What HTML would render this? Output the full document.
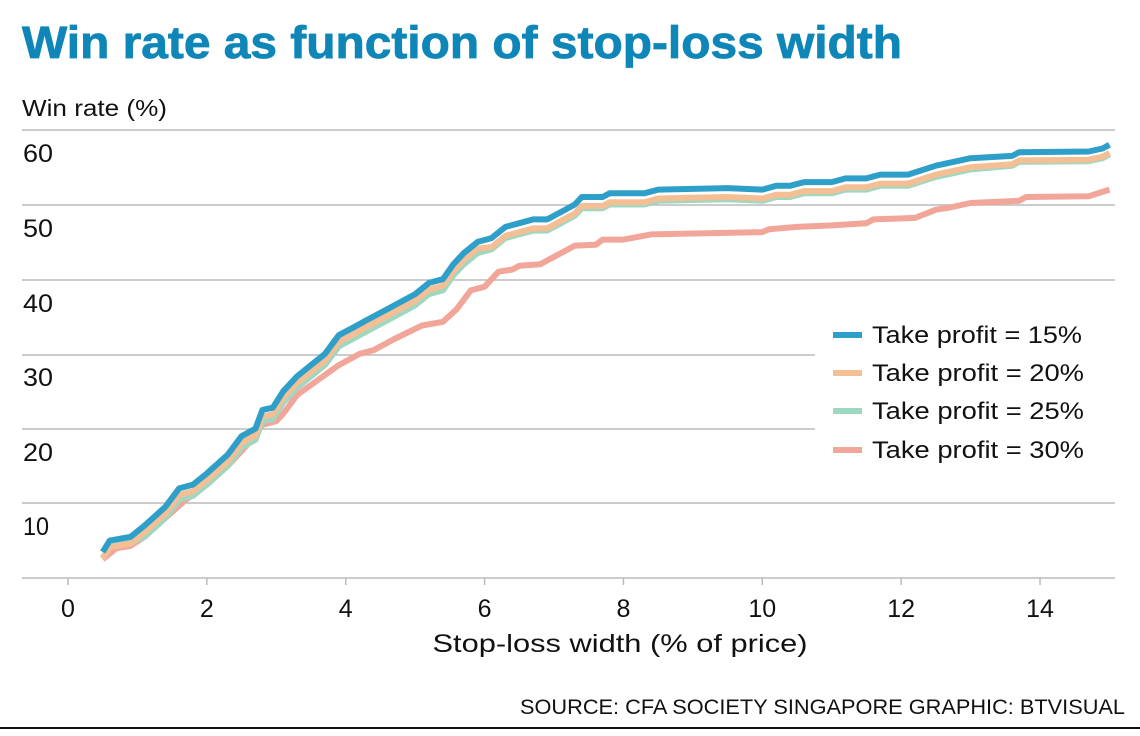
<!DOCTYPE html>
<html><head><meta charset="utf-8"><style>
html,body{margin:0;padding:0;background:#fff;}
svg{display:block;font-family:"Liberation Sans",sans-serif;}
</style></head><body>
<svg id="s" width="1140" height="736" viewBox="0 0 1140 736" xmlns="http://www.w3.org/2000/svg">
<rect width="1140" height="736" fill="#fff"/>
<text x="22" y="58" font-size="45" font-weight="bold" fill="#0f86b8" stroke="#0f86b8" stroke-width="0.8" textLength="880" lengthAdjust="spacingAndGlyphs">Win rate as function of stop-loss width</text>
<text x="22" y="116" font-size="23" fill="#111" textLength="145" lengthAdjust="spacingAndGlyphs">Win rate (%)</text>
<g stroke="#bbb" stroke-width="1.5">
<line x1="22" y1="130" x2="1115" y2="130"/>
<line x1="22" y1="205" x2="1115" y2="205"/>
<line x1="22" y1="280" x2="1115" y2="280"/>
<line x1="22" y1="355" x2="1115" y2="355"/>
<line x1="22" y1="429" x2="1115" y2="429"/>
<line x1="22" y1="503" x2="1115" y2="503"/>
<line x1="22" y1="578" x2="1115" y2="578"/>
</g>
<g font-size="25" fill="#111">
<text x="23" y="162" textLength="30" lengthAdjust="spacingAndGlyphs">60</text>
<text x="23" y="237" textLength="30" lengthAdjust="spacingAndGlyphs">50</text>
<text x="23" y="312" textLength="30" lengthAdjust="spacingAndGlyphs">40</text>
<text x="23" y="386" textLength="30" lengthAdjust="spacingAndGlyphs">30</text>
<text x="23" y="461" textLength="30" lengthAdjust="spacingAndGlyphs">20</text>
<text x="23" y="535" textLength="26" lengthAdjust="spacingAndGlyphs">10</text>
</g>
<g id="ticks" stroke="#bbb" stroke-width="1.5"></g>
<g id="xl" font-size="25" fill="#111" text-anchor="middle"></g>
<text x="620" y="652" font-size="25" fill="#111" text-anchor="middle" textLength="375" lengthAdjust="spacingAndGlyphs">Stop-loss width (% of price)</text>
<g id="lines" fill="none" stroke-width="6" stroke-linejoin="round"></g>
<rect x="815" y="310" width="300" height="160" fill="#fff"/>
<g stroke-width="6">
<line x1="833" y1="335" x2="862" y2="335" stroke="#2e9fc9"/>
<line x1="833" y1="373" x2="862" y2="373" stroke="#f4bf95"/>
<line x1="833" y1="411" x2="862" y2="411" stroke="#9fd8c0"/>
<line x1="833" y1="450" x2="862" y2="450" stroke="#f2a69a"/>
</g>
<g font-size="24" fill="#111">
<text x="872" y="343" textLength="210" lengthAdjust="spacingAndGlyphs">Take profit = 15%</text>
<text x="872" y="381" textLength="212" lengthAdjust="spacingAndGlyphs">Take profit = 20%</text>
<text x="872" y="419" textLength="212" lengthAdjust="spacingAndGlyphs">Take profit = 25%</text>
<text x="872" y="458" textLength="212" lengthAdjust="spacingAndGlyphs">Take profit = 30%</text>
</g>
<text x="1125" y="714" font-size="21" fill="#111" text-anchor="end" textLength="605" lengthAdjust="spacingAndGlyphs">SOURCE: CFA SOCIETY SINGAPORE   GRAPHIC: BTVISUAL</text>
<line x1="0" y1="728" x2="1140" y2="728" stroke="#111" stroke-width="2"/>
</svg>
<script>
var X=function(v){return 68+v*69.43;},Y=function(v){return 578-v*7.47;};
var NS="http://www.w3.org/2000/svg";
var t=document.getElementById('ticks'),xl=document.getElementById('xl');
for(var i=0;i<=14;i+=2){var l=document.createElementNS(NS,'line');l.setAttribute('x1',X(i));l.setAttribute('x2',X(i));l.setAttribute('y1',578);l.setAttribute('y2',585);t.appendChild(l);
var tx=document.createElementNS(NS,'text');tx.setAttribute('x',X(i));tx.setAttribute('y',617);tx.textContent=i;xl.appendChild(tx);}
var blue=[[0.5,3.5],[0.6,5],[0.9,5.5],[1.1,7],[1.4,9.5],[1.6,12],[1.8,12.5],[2,14],[2.3,16.5],[2.5,19],[2.7,20],[2.8,22.5],[2.95,22.8],[3.1,25],[3.3,27],[3.5,28.5],[3.7,30],[3.9,32.5],[4.1,33.5],[4.3,34.5],[4.6,36],[5,38],[5.2,39.5],[5.4,40],[5.55,42],[5.7,43.5],[5.9,45],[6.1,45.5],[6.3,47],[6.5,47.5],[6.7,48],[6.9,48],[7.1,49],[7.3,50],[7.4,51],[7.7,51],[7.8,51.5],[8.3,51.5],[8.5,52],[9.5,52.2],[10,52],[10.2,52.5],[10.4,52.5],[10.6,53],[11,53],[11.2,53.5],[11.5,53.5],[11.7,54],[12.1,54],[12.5,55.2],[13,56.2],[13.6,56.5],[13.7,57],[14.7,57.1],[14.9,57.5],[15,58]];
function shift(a,f){return a.map(function(p){return [p[0],p[1]-f(p[0])];});}
var orange=shift(blue,function(x){return x<6?0.9:(x<13.6?1.2:1.1);});
var green=shift(blue,function(x){return x<1?0.8:(x<6?1.5:(x<13.6?1.5:1.3));});
var pink=[[0.5,2.5],[0.7,4],[0.9,4.3],[1.1,5.5],[1.4,8],[1.7,10.5],[2,12.5],[2.3,15],[2.6,18],[2.8,20.5],[3,21],[3.1,22],[3.3,24.5],[3.6,26.5],[3.9,28.5],[4.2,30],[4.4,30.5],[4.7,32],[5.1,33.8],[5.4,34.3],[5.6,36],[5.8,38.5],[6,39],[6.2,41],[6.4,41.3],[6.5,41.8],[6.8,42],[7.1,43.5],[7.3,44.5],[7.6,44.6],[7.7,45.3],[8,45.3],[8.4,46],[10,46.3],[10.1,46.7],[10.5,47],[11,47.2],[11.5,47.5],[11.6,48],[12.2,48.2],[12.5,49.3],[12.7,49.6],[13,50.2],[13.7,50.5],[13.8,51],[14.7,51.1],[15,52]];
var g=document.getElementById('lines');
[[pink,'#f2a69a'],[green,'#9fd8c0'],[orange,'#f4bf95'],[blue,'#2e9fc9']].forEach(function(s){
var p=document.createElementNS(NS,'path');p.setAttribute('d','M'+s[0].map(function(q){return X(q[0]).toFixed(1)+','+Y(q[1]).toFixed(1);}).join('L'));p.setAttribute('stroke',s[1]);g.appendChild(p);});
</script>
</body></html>
